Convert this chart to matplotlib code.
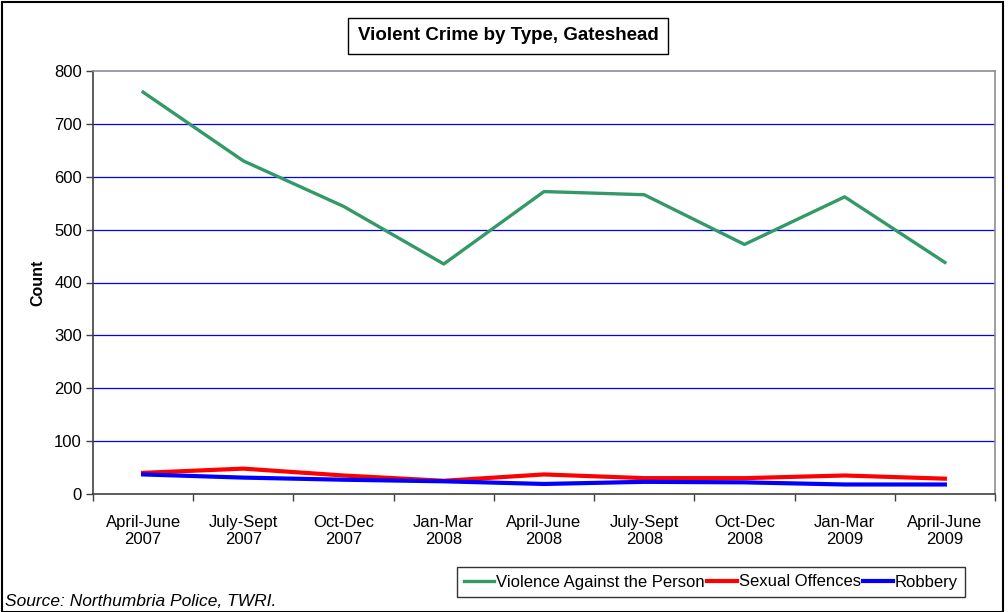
import matplotlib
matplotlib.use("Agg")
import matplotlib.pyplot as plt
from matplotlib.patches import Rectangle
import numpy as np

plt.rcParams['font.family'] = ['Liberation Sans', 'DejaVu Sans']

categories = ["April-June\n2007", "July-Sept\n2007", "Oct-Dec\n2007", "Jan-Mar\n2008",
              "April-June\n2008", "July-Sept\n2008", "Oct-Dec\n2008", "Jan-Mar\n2009",
              "April-June\n2009"]
violence = [760, 630, 544, 435, 572, 566, 472, 562, 438]
sexual = [40, 48, 35, 25, 37, 30, 30, 35, 29]
robbery = [37, 31, 27, 24, 19, 23, 22, 18, 18]
series_names = ["Violence Against the Person", "Sexual Offences", "Robbery"]
yticks = [0, 100, 200, 300, 400, 500, 600, 700, 800]

W, H = 1008, 612
fig = plt.figure(figsize=(W / 100, H / 100), dpi=100)
ax = fig.add_axes([93 / W, 1 - 494 / H, (995 - 93) / W, (494 - 71) / H])

x = np.arange(len(categories))
l1, = ax.plot(x, violence, color="#339966", lw=2.4)
l2, = ax.plot(x, sexual, color="#FF0000", lw=3.0)
l3, = ax.plot(x, robbery, color="#0000FF", lw=3.0)

ax.set_xlim(-0.5, len(categories) - 0.5)
ax.set_ylim(0, 800)
ax.set_yticks(yticks)
ax.set_yticklabels([str(v) for v in yticks], fontsize=12)
for v in yticks[1:-1]:
    ax.axhline(v, color="#0000FF", lw=0.9, zorder=0)

ax.set_xticks(x)
ax.set_xticklabels(categories, fontsize=12, linespacing=1.2)
ax.tick_params(axis='x', which='major', length=0, pad=15)
ax.set_xticks(np.arange(-0.5, len(categories)), minor=True)
ax.tick_params(axis='x', which='minor', length=5, width=1, color="#404040", direction='out')
ax.tick_params(axis='y', length=5, width=1, color="#404040", direction='out', pad=3)

for s in ['left', 'bottom']:
    ax.spines[s].set_color("#404040")
    ax.spines[s].set_linewidth(1.2)
for s in ['top', 'right']:
    ax.spines[s].set_color("#8C8C9C")
    ax.spines[s].set_linewidth(1.2)

ax.set_ylabel("Count", fontsize=11.5, fontweight='bold', labelpad=6)

# Title box
fig.text(508 / W, 1 - 36 / H, "Violent Crime by Type, Gateshead", fontsize=13.5,
         fontweight='bold', ha='center', va='center',
         bbox=dict(boxstyle='square,pad=0.5', fc='white', ec='black', lw=1))

# Legend
leg = fig.legend([l1, l2, l3], series_names, loc='center',
                 bbox_to_anchor=(711 / W, 1 - 582 / H), ncol=3, fontsize=12,
                 frameon=True, fancybox=False, edgecolor='black', handlelength=1.8,
                 handletextpad=0.12, columnspacing=0.12, borderpad=0.45,
                 borderaxespad=0)
leg.get_frame().set_linewidth(1)

fig.text(5 / W, 1 - 602 / H, "Source: Northumbria Police, TWRI.", fontsize=12.5,
         style='italic', ha='left', va='center')

# Outer frame
fig.patches.append(Rectangle((1.5 / W, 0), (1003 - 1.5) / W, 1 - 1.5 / H,
                             transform=fig.transFigure, fill=False, ec='black', lw=1.5))

fig.savefig("out.png", dpi=100)
